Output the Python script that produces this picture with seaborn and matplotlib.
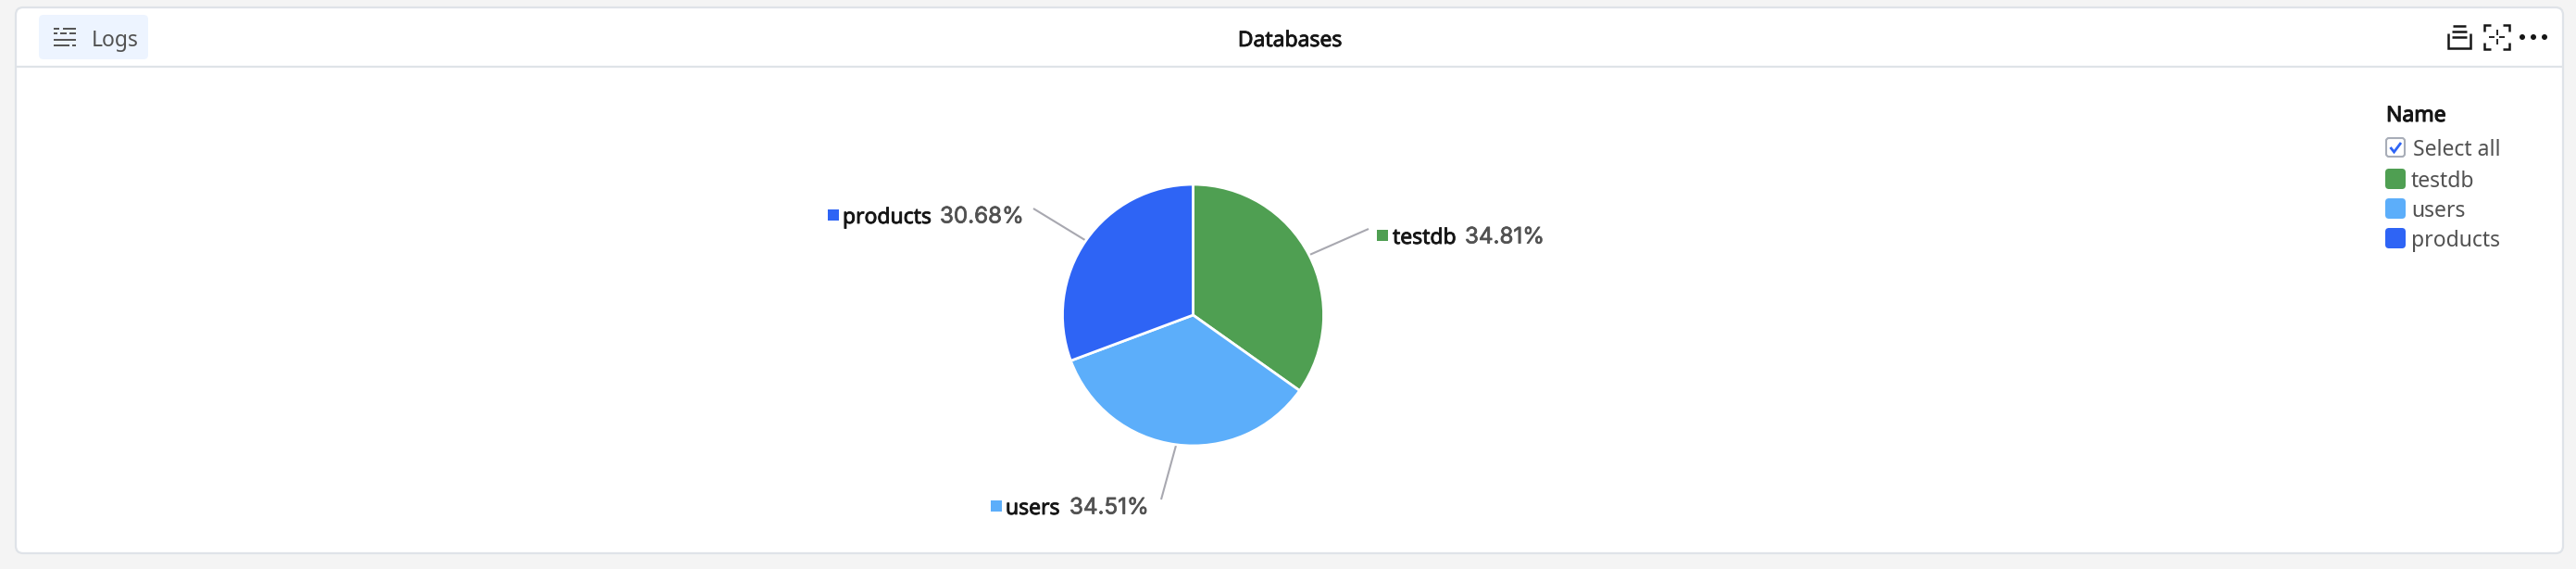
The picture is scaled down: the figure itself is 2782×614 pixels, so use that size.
import numpy as np
import matplotlib
matplotlib.use("Agg")
import matplotlib.pyplot as plt
import matplotlib.patheffects as pe
from matplotlib.patches import FancyBboxPatch, Rectangle, Circle
import seaborn as sns

# ---- data ----
names = ["testdb", "users", "products"]
shares = [34.81, 34.51, 30.68]
colors_hex = ["#4f9f52", "#5caefa", "#2e64f5"]
title = "Databases"
button_label = "Logs"
legend_title = "Name"
select_all = "Select all"

# ---- layout (pixels) ----
W, H = 2782, 614
CX, CY, R = 1288.5, 340, 141
label_pos = {"testdb": (1487, 1504, 1582, 254),
             "users": (1070, 1086, 1155, 546),
             "products": (894, 910, 1015, 232)}
leader_end = {"testdb": (1478, 247), "users": (1254, 539), "products": (1116, 225)}
FS = 16.5
DARK, GRAY = "#161616", "#525252"

sns.set_theme(style="white")
plt.rcParams["font.family"] = ["Noto Sans", "DejaVu Sans"]
palette = sns.color_palette(colors_hex)

fig = plt.figure(figsize=(W / 100, H / 100), dpi=100, facecolor="#f4f4f4")
bg = fig.add_axes([0, 0, 1, 1])
bg.set_xlim(0, W); bg.set_ylim(H, 0); bg.axis("off")


def rbox(x0, y0, x1, y1, r, fc, ec="none", lw=0, ax=bg, z=1):
    p = FancyBboxPatch((x0 + r, y0 + r), x1 - x0 - 2 * r, y1 - y0 - 2 * r,
                       boxstyle=f"round,pad={r},rounding_size={r}",
                       fc=fc, ec=ec, lw=lw, zorder=z)
    ax.add_patch(p)


def seg(xs, ys, c="#161616", lw=1.6, z=3):
    bg.plot(xs, ys, color=c, lw=lw, solid_capstyle="butt", solid_joinstyle="miter", zorder=z)


def txt(x, y, s, color=GRAY, heavy=0.0, ha="left", family=None, fs=FS):
    t = bg.text(x, y, s, fontsize=fs, color=color, va="center_baseline", ha=ha,
                zorder=6, **({"family": family} if family else {}))
    if heavy:
        t.set_path_effects([pe.withStroke(linewidth=heavy, foreground=color)])
    return t


# panel
rbox(17, 8, 2768, 597, 8, "white", "#dfe3e8", 1.6)
seg([18, 2767], [71.5, 71.5], "#dfe3e8", 1.6, 2)

# logs button
rbox(42, 16, 160, 64, 5, "#edf4ff")
for y, parts in [(30.5, [(58, 64), (68, 82)]), (35.5, [(58, 62), (65, 72), (75, 82)]),
                 (43, [(58, 82)]), (49, [(58, 75), (78, 82)])]:
    for a, b in parts:
        seg([a, b], [y, y], "#525252", 1.4)
txt(99, 41, button_label)

# title
txt(1393, 41, title, DARK, 0.6, ha="center")

# toolbar icons
seg([2644, 2644, 2668, 2668], [36, 52, 52, 36], lw=1.8)
seg([2649, 2663], [28, 28], lw=1.8)
seg([2648, 2664], [34, 34], lw=1.8)
seg([2648, 2664], [40, 40], lw=1.8)
for (sx, sy) in [(2683, 27), (2710, 27), (2683, 53), (2710, 53)]:
    dx = 7 if sx < 2696 else -7
    dy = 7 if sy < 40 else -7
    seg([sx + dx, sx, sx], [sy, sy, sy + dy], lw=1.8)
seg([2688, 2694], [40, 40], lw=1.3); seg([2699, 2705], [40, 40], lw=1.3)
seg([2696.5, 2696.5], [32, 38], lw=1.3); seg([2696.5, 2696.5], [42, 48], lw=1.3)
for x in (2724, 2736, 2748):
    bg.add_patch(Circle((x, 40), 3, fc="#161616", ec="none", zorder=3))

# legend
txt(2577, 122, legend_title, DARK, 0.8)
rbox(2577, 149, 2597, 169, 3, "white", "#a8adb8", 1.5, z=3)
seg([2581.5, 2585.5, 2593], [159, 164, 154], "#2e64f5", 2, 4)
txt(2606, 159.5, select_all)
for n, c, y in zip(names, palette, (193, 225, 257)):
    rbox(2576, y - 11, 2598, y + 11, 4, c, z=3)
    txt(2604, y, n)

# pie
pie_ax = fig.add_axes([(CX - R) / W, 1 - (CY + R) / H, 2 * R / W, 2 * R / H])
pie_ax.patch.set_alpha(0)
pie_ax.pie(shares, colors=palette, startangle=90, counterclock=False, radius=1,
           wedgeprops=dict(edgecolor="white", linewidth=2), frame=False)
pie_ax.set_xlim(-1, 1); pie_ax.set_ylim(-1, 1)

# leader lines start at the slices' mid angles
edges = np.cumsum([0] + shares)
mids = (edges[:-1] + edges[1:]) / 2 / np.sum(shares) * 2 * np.pi
for n, m in zip(names, mids):
    ex, ey = leader_end[n]
    seg([CX + R * np.sin(m), ex], [CY - R * np.cos(m), ey], "#a8a8b0", 1.5, 2)

# callout labels
for n, c, s in zip(names, palette, shares):
    xs, xt, xp, y = label_pos[n]
    bg.add_patch(Rectangle((xs, y - 6), 12, 12, fc=c, ec="none", zorder=3))
    txt(xt, y, n, DARK, 0.6)
    txt(xp, y, f"{s:.2f}%", GRAY, 0.5, family="Inter", fs=17.4)

fig.savefig("out.png", dpi=100, facecolor=fig.get_facecolor())
